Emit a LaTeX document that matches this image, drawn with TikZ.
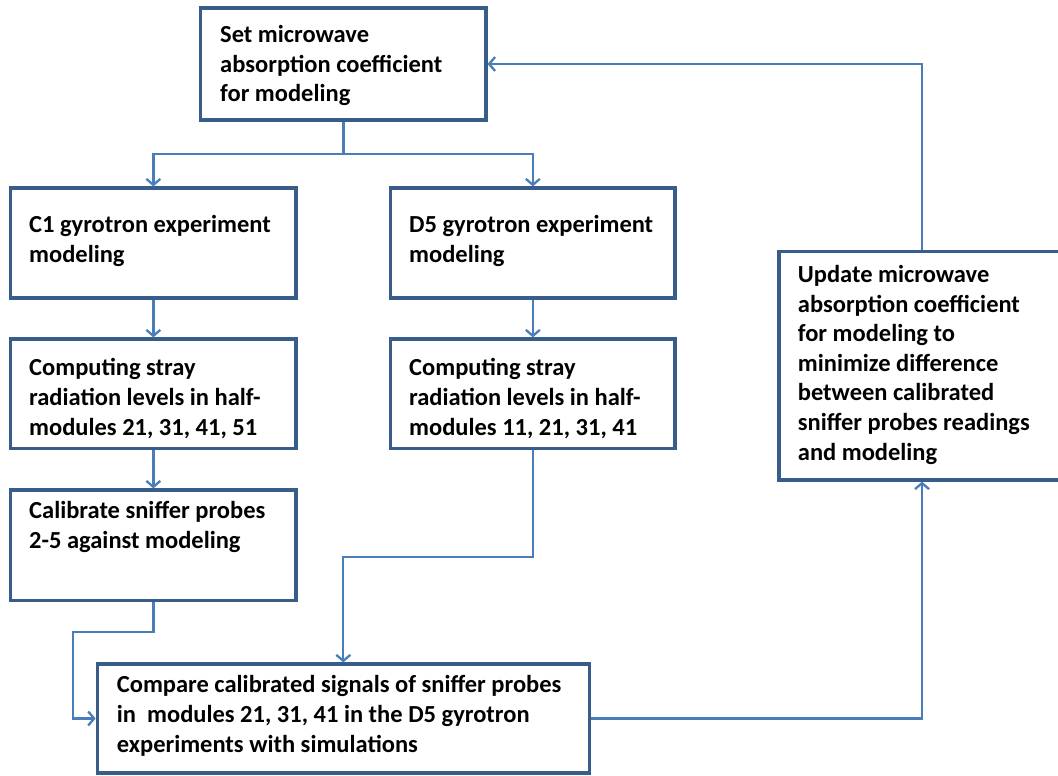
\documentclass[tikz,border=0pt]{standalone}
\usepackage{fontspec}
\setmainfont{Carlito}
\usetikzlibrary{arrows.meta}
\definecolor{boxborder}{RGB}{56,93,138}
\definecolor{conncol}{RGB}{74,126,187}
\tikzset{
  box/.style={draw=boxborder, line width=3.2pt, fill=white, inner sep=0pt},
  txt/.style={anchor=base west, align=left, inner sep=0pt,
    font=\fontsize{24.5}{29.6}\selectfont\bfseries},
  conn/.style={draw=conncol, line width=2.3pt},
  arr/.style={conn, -{Straight Barb[length=6pt,width=14pt]}},
}
\begin{document}
\begin{tikzpicture}[x=1pt,y=-1pt]
\useasboundingbox (0,0) rectangle (1058,776);
% boxes
\node[box, minimum width=285.3pt, minimum height=112pt] (set) at (343.35,64) {};
\node[box, minimum width=285.3pt, minimum height=110pt] (c1) at (153.35,243) {};
\node[box, minimum width=284.3pt, minimum height=110pt] (d5) at (532.85,243) {};
\node[box, minimum width=285.3pt, minimum height=109.5pt] (comp1) at (153.35,393.75) {};
\node[box, minimum width=284.3pt, minimum height=109.5pt] (comp5) at (532.85,393.75) {};
\node[box, minimum width=285.3pt, minimum height=110.7pt] (cal) at (153.35,545.35) {};
\node[box, minimum width=492pt, minimum height=109pt] (cmp) at (343.3,718.5) {};
\node[box, minimum width=286pt, minimum height=228.3pt] (upd) at (922,365.85) {};
% texts (anchored at the baseline of the last line)
\node[txt] (setT) at (220,102) {Set microwave\\absorption coefficient\\for modeling};
\node[txt] (c1T) at (29,262) {C1 gyrotron experiment\\modeling};
\node[txt] (d5T) at (409,262) {D5 gyrotron experiment\\modeling};
\node[txt] (comp1T) at (29,435) {Computing stray\\radiation levels in half-\\modules 21, 31, 41, 51};
\node[txt] (comp5T) at (409,435) {Computing stray\\radiation levels in half-\\modules 11, 21, 31, 41};
\node[txt] (calT) at (29,548) {Calibrate sniffer probes\\2-5 against modeling};
\node[txt] (cmpT) at (116.7,752) {Compare calibrated signals of sniffer probes\\in\ \ modules 21, 31, 41 in the D5 gyrotron\\experiments with simulations};
\node[txt] (updT) at (797.7,460) {Update microwave\\absorption coefficient\\for modeling to\\minimize difference\\between calibrated\\sniffer probes readings\\and modeling};
% connectors
\coordinate (split) at (343.35,154);
\coordinate (k1) at (72.7,632.3);
\coordinate (k2) at (343.3,556.7);
\draw[conn] (set.south) -- (split);
\draw[arr] (split) -| (c1.north);
\draw[arr] (split) -| (d5.north);
\draw[arr] (c1.south) -- (comp1.north);
\draw[arr] (d5.south) -- (comp5.north);
\draw[arr] (comp1.south) -- (cal.north);
\draw[arr] (cal.south) |- (k1) |- (cmp.west);
\draw[arr] (comp5.south) |- (k2) -- (cmp.north);
\draw[arr] (cmp.east) -| (upd.south);
\draw[arr] (upd.north) |- (set.east);
\end{tikzpicture}
\end{document}
